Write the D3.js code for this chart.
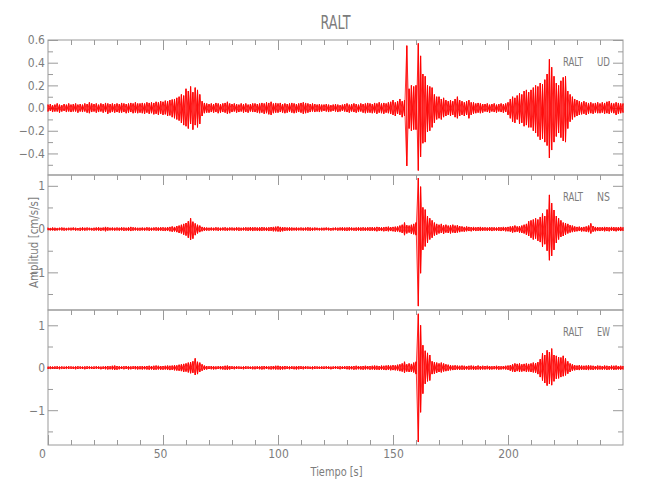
<!DOCTYPE html>
<html><head><meta charset="utf-8">
<script src="https://cdn.jsdelivr.net/npm/d3@7"></script>
<style>
body{margin:0;background:#fff}
svg text{font-family:'Liberation Sans Narrow','DejaVu Sans Condensed','Liberation Sans',sans-serif;fill:#7c7c7c}
</style></head><body>
<svg id="c" width="650" height="500"></svg>
<script>
// ---------------- data ----------------
const title = "RALT";
const station = "RALT";
const components = ["UD", "NS", "EW"];
const xLabel = "Tiempo [s]";
const yLabel = "Amplitud [cm/s/s]";
const timeStep = 1; // s between envelope samples, starting at 0 s

// per-second peak (hi) and trough (lo) of each record
const udHi = [
.03,.035,.025,.03,.04,.03,.025,.035,.03,.04,
.03,.035,.04,.03,.035,.03,.04,.035,.05,.04,
.035,.04,.03,.04,.035,.045,.04,.035,.04,.035,
.04,.035,.045,.04,.035,.04,.045,.04,.05,.04,
.04,.045,.04,.05,.045,.05,.045,.055,.05,.06,
.055,.065,.06,.07,.075,.08,.09,.1,.12,.11,
.17,.15,.19,.14,.18,.16,.12,.06,.045,.04,
.035,.04,.035,.045,.04,.035,.04,.045,.055,.04,
.035,.04,.035,.03,.04,.035,.04,.03,.035,.04,
.04,.035,.04,.045,.04,.05,.045,.055,.04,.045,
.04,.045,.035,.04,.035,.04,.045,.04,.035,.04,
.045,.05,.045,.04,.035,.04,.035,.03,.035,.03,
.03,.035,.03,.025,.03,.035,.03,.025,.03,.035,
.04,.03,.035,.04,.035,.03,.04,.035,.04,.045,
.04,.035,.045,.04,.05,.04,.045,.04,.05,.055,
.07,.05,.06,.08,.06,.07,.55,.17,.2,.19,
.2,.57,.46,.3,.28,.2,.19,.18,.12,.1,
.1,.08,.09,.07,.06,.07,.06,.08,.1,.07,
.06,.05,.06,.07,.05,.05,.04,.045,.04,.035,
.035,.04,.03,.035,.04,.03,.035,.04,.035,.04,
.05,.08,.1,.09,.11,.13,.12,.15,.16,.14,
.16,.18,.2,.19,.22,.21,.25,.3,.43,.36,
.28,.22,.2,.24,.27,.28,.15,.12,.1,.08,
.07,.06,.05,.06,.05,.045,.05,.04,.045,.05,
.04,.05,.045,.055,.06,.045,.04,.05,.045,.04,.04];
const udLo = [
-.03,-.025,-.035,-.03,-.03,-.04,-.03,-.025,-.035,-.03,
-.035,-.03,-.03,-.04,-.03,-.035,-.03,-.04,-.045,-.035,
-.03,-.04,-.035,-.03,-.04,-.035,-.05,-.04,-.035,-.04,
-.035,-.04,-.04,-.035,-.045,-.04,-.035,-.045,-.04,-.045,
-.04,-.045,-.05,-.04,-.05,-.045,-.055,-.05,-.06,-.05,
-.06,-.055,-.07,-.065,-.08,-.09,-.1,-.11,-.13,-.15,
-.16,-.18,-.14,-.19,-.15,-.17,-.14,-.07,-.045,-.04,
-.04,-.035,-.04,-.035,-.045,-.04,-.035,-.04,-.05,-.045,
-.035,-.03,-.04,-.035,-.03,-.04,-.035,-.04,-.03,-.035,
-.035,-.04,-.045,-.04,-.05,-.045,-.055,-.06,-.045,-.04,
-.04,-.035,-.04,-.045,-.04,-.035,-.04,-.045,-.04,-.035,
-.04,-.05,-.045,-.04,-.035,-.03,-.035,-.03,-.035,-.03,
-.025,-.03,-.035,-.03,-.025,-.03,-.035,-.03,-.025,-.03,
-.035,-.04,-.03,-.035,-.04,-.035,-.03,-.04,-.045,-.04,
-.04,-.045,-.04,-.05,-.04,-.045,-.05,-.04,-.045,-.05,
-.06,-.07,-.05,-.06,-.08,-.07,-.51,-.18,-.2,-.19,
-.19,-.55,-.43,-.31,-.3,-.21,-.2,-.17,-.13,-.1,
-.09,-.1,-.08,-.07,-.06,-.07,-.06,-.08,-.09,-.07,
-.06,-.07,-.06,-.09,-.06,-.05,-.045,-.04,-.045,-.04,
-.03,-.035,-.04,-.03,-.035,-.04,-.03,-.035,-.04,-.035,
-.06,-.09,-.12,-.13,-.1,-.14,-.13,-.16,-.15,-.17,
-.17,-.2,-.22,-.25,-.28,-.27,-.3,-.33,-.44,-.37,
-.3,-.25,-.22,-.26,-.29,-.3,-.18,-.12,-.1,-.08,
-.07,-.06,-.055,-.05,-.06,-.05,-.045,-.05,-.04,-.045,
-.045,-.04,-.05,-.045,-.05,-.04,-.045,-.06,-.05,-.045,-.04];

const nsHi = [
.03,.025,.035,.03,.025,.03,.035,.03,.025,.03,
.03,.035,.03,.025,.03,.04,.03,.035,.03,.025,
.03,.035,.04,.03,.035,.05,.04,.03,.035,.03,
.035,.03,.04,.035,.03,.04,.05,.04,.035,.03,
.03,.035,.03,.04,.035,.03,.035,.04,.035,.04,
.04,.035,.045,.05,.06,.05,.07,.08,.1,.12,
.14,.18,.25,.17,.13,.1,.08,.05,.04,.035,
.03,.035,.03,.04,.035,.03,.035,.04,.03,.035,
.035,.03,.04,.035,.03,.035,.04,.035,.045,.04,
.04,.035,.04,.045,.04,.035,.04,.045,.05,.055,
.06,.05,.045,.04,.035,.04,.035,.03,.035,.03,
.035,.03,.035,.04,.035,.03,.035,.03,.025,.03,
.03,.035,.03,.025,.03,.035,.03,.035,.04,.035,
.035,.04,.035,.03,.035,.04,.035,.04,.035,.04,
.04,.045,.04,.05,.045,.04,.045,.05,.055,.045,
.05,.055,.06,.08,.1,.15,.09,.08,.1,.12,
.15,1.18,.98,.5,.45,.3,.25,.2,.15,.12,
.1,.12,.09,.1,.08,.09,.1,.08,.09,.07,
.06,.05,.06,.05,.045,.05,.04,.045,.05,.04,
.04,.035,.045,.04,.04,.035,.045,.04,.05,.045,
.05,.06,.07,.08,.06,.07,.08,.1,.12,.18,
.2,.22,.25,.22,.28,.36,.3,.45,.79,.6,
.44,.3,.25,.2,.15,.14,.12,.09,.08,.06,
.05,.055,.045,.05,.06,.08,.13,.07,.05,.045,
.04,.045,.05,.045,.04,.05,.045,.04,.045,.05,.04];
const nsLo = [
-.025,-.03,-.03,-.035,-.03,-.025,-.03,-.035,-.03,-.025,
-.03,-.025,-.035,-.03,-.04,-.03,-.035,-.03,-.025,-.03,
-.035,-.03,-.035,-.04,-.03,-.05,-.035,-.03,-.03,-.035,
-.03,-.035,-.03,-.04,-.035,-.04,-.045,-.035,-.03,-.035,
-.035,-.03,-.035,-.03,-.04,-.035,-.03,-.035,-.04,-.035,
-.04,-.045,-.04,-.05,-.06,-.055,-.07,-.09,-.1,-.13,
-.15,-.2,-.25,-.22,-.14,-.1,-.07,-.05,-.04,-.035,
-.035,-.03,-.035,-.03,-.04,-.035,-.03,-.035,-.04,-.03,
-.03,-.035,-.03,-.04,-.035,-.03,-.035,-.04,-.035,-.045,
-.035,-.04,-.045,-.04,-.035,-.04,-.045,-.04,-.05,-.05,
-.055,-.06,-.05,-.04,-.035,-.04,-.035,-.03,-.035,-.03,
-.03,-.035,-.03,-.035,-.04,-.035,-.03,-.025,-.03,-.03,
-.03,-.025,-.03,-.035,-.03,-.025,-.035,-.03,-.035,-.04,
-.04,-.035,-.03,-.035,-.04,-.035,-.04,-.035,-.04,-.035,
-.04,-.04,-.045,-.05,-.04,-.045,-.05,-.045,-.05,-.045,
-.05,-.06,-.055,-.07,-.09,-.14,-.1,-.08,-.11,-.12,
-.14,-1.78,-1.02,-.48,-.4,-.32,-.24,-.2,-.15,-.13,
-.1,-.09,-.11,-.08,-.09,-.1,-.08,-.09,-.08,-.07,
-.055,-.06,-.05,-.045,-.05,-.04,-.045,-.04,-.045,-.04,
-.035,-.04,-.04,-.045,-.035,-.04,-.04,-.045,-.04,-.05,
-.05,-.06,-.08,-.07,-.06,-.08,-.09,-.1,-.13,-.16,
-.2,-.24,-.22,-.27,-.3,-.41,-.35,-.5,-.72,-.62,
-.48,-.32,-.24,-.18,-.16,-.13,-.1,-.08,-.07,-.06,
-.05,-.045,-.055,-.05,-.06,-.07,-.1,-.06,-.05,-.045,
-.045,-.04,-.05,-.045,-.05,-.04,-.045,-.05,-.04,-.045,-.04];

const ewHi = [
.025,.03,.025,.03,.035,.025,.03,.025,.03,.035,
.03,.025,.03,.035,.03,.025,.03,.035,.03,.025,
.03,.035,.03,.025,.03,.035,.04,.035,.045,.05,
.04,.035,.03,.035,.04,.035,.03,.035,.04,.035,
.035,.04,.035,.04,.045,.04,.045,.05,.045,.04,
.04,.045,.05,.045,.05,.06,.055,.07,.08,.09,
.1,.12,.13,.15,.22,.14,.12,.08,.05,.04,
.035,.04,.035,.03,.035,.04,.035,.045,.05,.04,
.035,.03,.035,.03,.025,.03,.035,.03,.025,.03,
.03,.035,.03,.035,.04,.035,.03,.035,.04,.045,
.045,.04,.035,.04,.035,.03,.035,.03,.035,.04,
.035,.03,.035,.03,.025,.03,.035,.03,.025,.03,
.03,.035,.03,.025,.03,.035,.03,.035,.03,.035,
.035,.04,.035,.04,.045,.04,.035,.04,.045,.04,
.04,.045,.05,.045,.04,.05,.045,.05,.06,.05,
.06,.055,.07,.08,.1,.14,.08,.1,.09,.12,
.14,1.27,1.0,.53,.4,.35,.3,.15,.13,.12,
.1,.12,.1,.08,.07,.06,.05,.055,.05,.045,
.05,.045,.04,.045,.05,.045,.04,.05,.04,.045,
.04,.045,.04,.035,.04,.045,.04,.035,.04,.045,
.05,.06,.08,.1,.09,.1,.08,.09,.1,.09,
.1,.12,.11,.13,.2,.34,.3,.41,.37,.45,
.3,.28,.25,.24,.28,.22,.15,.1,.08,.06,
.05,.06,.05,.045,.05,.06,.05,.045,.04,.05,
.045,.04,.05,.045,.04,.05,.045,.05,.04,.045,.04];
const ewLo = [
-.03,-.025,-.03,-.025,-.03,-.035,-.025,-.03,-.025,-.03,
-.025,-.03,-.035,-.03,-.025,-.03,-.035,-.03,-.025,-.03,
-.03,-.025,-.03,-.035,-.03,-.035,-.04,-.035,-.04,-.05,
-.045,-.035,-.03,-.035,-.03,-.04,-.035,-.03,-.035,-.04,
-.035,-.04,-.035,-.04,-.045,-.04,-.05,-.045,-.04,-.045,
-.045,-.04,-.05,-.055,-.05,-.06,-.065,-.07,-.08,-.1,
-.09,-.11,-.13,-.12,-.17,-.15,-.1,-.07,-.05,-.04,
-.03,-.035,-.04,-.035,-.03,-.035,-.04,-.045,-.05,-.04,
-.03,-.035,-.03,-.025,-.03,-.035,-.03,-.025,-.03,-.035,
-.035,-.03,-.035,-.04,-.035,-.03,-.035,-.04,-.035,-.04,
-.04,-.045,-.04,-.035,-.03,-.035,-.03,-.035,-.04,-.035,
-.03,-.035,-.03,-.025,-.03,-.035,-.03,-.025,-.03,-.03,
-.03,-.025,-.03,-.035,-.03,-.025,-.03,-.035,-.03,-.03,
-.035,-.04,-.035,-.045,-.04,-.035,-.04,-.045,-.04,-.035,
-.045,-.04,-.05,-.045,-.05,-.045,-.05,-.055,-.05,-.06,
-.055,-.06,-.065,-.08,-.09,-.12,-.09,-.1,-.1,-.11,
-.15,-1.75,-1.05,-.61,-.38,-.32,-.3,-.15,-.14,-.12,
-.1,-.11,-.09,-.08,-.07,-.06,-.055,-.05,-.045,-.05,
-.045,-.05,-.04,-.045,-.04,-.05,-.045,-.04,-.045,-.04,
-.04,-.035,-.045,-.04,-.035,-.04,-.045,-.04,-.035,-.04,
-.05,-.07,-.09,-.1,-.08,-.1,-.09,-.08,-.1,-.09,
-.1,-.11,-.12,-.15,-.22,-.3,-.36,-.42,-.38,-.41,
-.32,-.26,-.25,-.22,-.2,-.18,-.14,-.1,-.07,-.06,
-.05,-.055,-.05,-.045,-.05,-.055,-.045,-.05,-.04,-.045,
-.04,-.045,-.04,-.05,-.045,-.04,-.05,-.045,-.04,-.045,-.04];

const xDomain = [0, 250];
const xMajorTicks = [0, 50, 100, 150, 200];
const xMinorTicks = [10,20,30,40,60,70,80,90,110,120,130,140,160,170,180,190,210,220,230,240];
const udDomain = [-0.59, 0.6], nsDomain = [-1.87, 1.25], ewDomain = [-1.82, 1.36];
const udMajor = [0.6, 0.4, 0.2, 0.0, -0.2, -0.4], udMinor = [0.5, 0.3, 0.1, -0.1, -0.3, -0.5];
const nsMajor = [1, 0, -1], nsMinor = [0.5, -0.5, -1.5];
const ewMajor = [1, 0, -1], ewMinor = [0.5, -0.5, -1.5];

// ---------------- layout ----------------
const L = 48, R = 623, panelTops = [40, 175, 310], PH = 135;
const axisCol = "#9a9a9a", textCol = "#808080";
const svg = d3.select("#c");
const x = d3.scaleLinear().domain(xDomain).range([L, R]);

const panels = [
  {hi: udHi, lo: udLo, comp: components[0], dom: udDomain, major: udMajor, minor: udMinor, fmt: d3.format(".1f")},
  {hi: nsHi, lo: nsLo, comp: components[1], dom: nsDomain, major: nsMajor, minor: nsMinor, fmt: d3.format("d")},
  {hi: ewHi, lo: ewLo, comp: components[2], dom: ewDomain, major: ewMajor, minor: ewMinor, fmt: d3.format("d")}
];

function styleAxis(g) {
  g.select(".domain").remove();
  g.selectAll(".tick line").attr("stroke", axisCol).attr("stroke-width", 1);
  g.selectAll(".tick text").attr("fill", textCol).style("font-size", "12px");
}

panels.forEach((p, i) => {
  const top = panelTops[i], bot = top + PH;
  const y = d3.scaleLinear().domain(p.dom).range([bot, top]);
  const g = svg.append("g");

  // y axes (ticks pointing inward)
  g.append("g").attr("transform", `translate(${L},0)`)
    .call(d3.axisLeft(y).tickValues(p.major).tickSize(-10).tickSizeOuter(0).tickPadding(3).tickFormat(p.fmt)).call(styleAxis);
  g.append("g").attr("transform", `translate(${L},0)`)
    .call(d3.axisLeft(y).tickValues(p.minor).tickSize(-5).tickSizeOuter(0).tickFormat("")).call(styleAxis);
  g.append("g").attr("transform", `translate(${R},0)`)
    .call(d3.axisRight(y).tickValues(p.major).tickSize(-10).tickSizeOuter(0).tickFormat("")).call(styleAxis);
  g.append("g").attr("transform", `translate(${R},0)`)
    .call(d3.axisRight(y).tickValues(p.minor).tickSize(-5).tickSizeOuter(0).tickFormat("")).call(styleAxis);
  // top ticks of every panel
  g.append("g").attr("transform", `translate(0,${top})`)
    .call(d3.axisTop(x).tickValues(xMajorTicks.filter(v => v > xDomain[0])).tickSize(-10).tickSizeOuter(0).tickFormat("")).call(styleAxis);
  g.append("g").attr("transform", `translate(0,${top})`)
    .call(d3.axisTop(x).tickValues(xMinorTicks).tickSize(-5).tickSizeOuter(0).tickFormat("")).call(styleAxis);

  if (i === panels.length - 1) {
    const bx = g.append("g").attr("transform", `translate(0,${bot})`)
      .call(d3.axisBottom(x).tickValues(xMajorTicks).tickSize(-10).tickSizeOuter(0).tickPadding(4).tickFormat(d3.format("d"))).call(styleAxis);
    bx.selectAll(".tick text").filter(d => d === 0).attr("dx", -6);
    bx.selectAll(".tick text").filter(d => d === 50).attr("dx", -3);
    g.append("g").attr("transform", `translate(0,${bot})`)
      .call(d3.axisBottom(x).tickValues(xMinorTicks).tickSize(-5).tickSizeOuter(0).tickFormat("")).call(styleAxis);
  }

  // frame
  g.append("rect").attr("x", L).attr("y", top).attr("width", R - L).attr("height", PH)
    .attr("fill", "none").attr("stroke", axisCol).attr("stroke-width", 1);

  // trace: dense zig-zag through each second's peak and trough (both orders -> filled look)
  const n = Math.min(p.hi.length, p.lo.length);
  const ptsA = [], ptsB = [];
  for (let k = 0; k < n; k++) {
    ptsA.push([k * timeStep, p.hi[k]]); ptsA.push([k * timeStep, p.lo[k]]);
    ptsB.push([k * timeStep, p.lo[k]]); ptsB.push([k * timeStep, p.hi[k]]);
  }
  const line = d3.line().x(d => x(d[0])).y(d => y(d[1]));
  [ptsA, ptsB].forEach(pts => {
    g.append("path").attr("d", line(pts)).attr("fill", "none")
      .attr("stroke", "#ff0000").attr("stroke-width", 0.8).attr("stroke-linejoin", "miter");
  });

  // channel label
  g.append("text").attr("x", 563).attr("y", top + 26).text(station)
    .style("font-size", "13px").attr("textLength", 20).attr("lengthAdjust", "spacingAndGlyphs").attr("fill", textCol);
  g.append("text").attr("x", 610).attr("y", top + 26).attr("text-anchor", "end").text(p.comp)
    .style("font-size", "13px").attr("textLength", 13).attr("lengthAdjust", "spacingAndGlyphs").attr("fill", textCol);
});

// title & axis titles
svg.append("text").attr("x", (L + R) / 2).attr("y", 29).attr("text-anchor", "middle").text(title)
  .style("font-size", "19px").attr("textLength", 30).attr("lengthAdjust", "spacingAndGlyphs").attr("fill", textCol);
svg.append("text").attr("x", (L + R) / 2 + 1).attr("y", 476).attr("text-anchor", "middle").text(xLabel)
  .style("font-size", "13px").attr("textLength", 52).attr("lengthAdjust", "spacingAndGlyphs").attr("fill", textCol);
svg.append("text").attr("transform", `translate(38,${(panelTops[0] + panelTops[2] + PH) / 2}) rotate(-90)`)
  .attr("text-anchor", "middle").text(yLabel)
  .style("font-size", "13px").attr("textLength", 91).attr("lengthAdjust", "spacingAndGlyphs").attr("fill", textCol);
</script>
</body></html>
